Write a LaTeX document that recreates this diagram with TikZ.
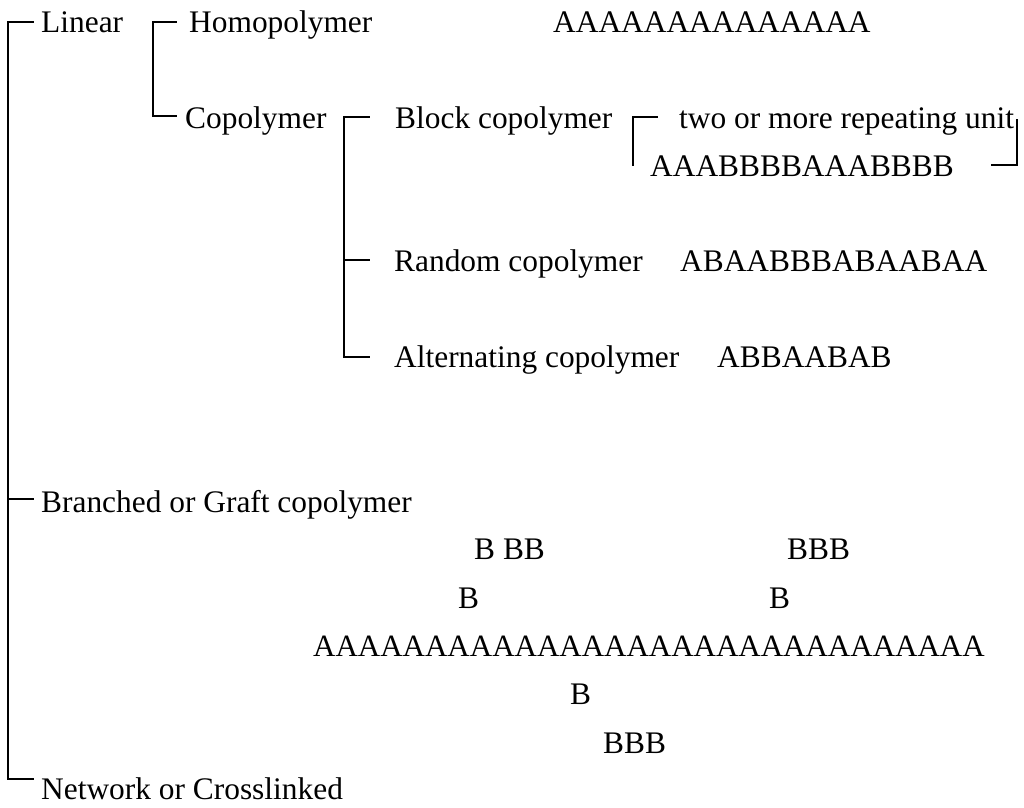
\documentclass[tikz,border=0pt]{standalone}
\usepackage{fontspec}
\setmainfont{Liberation Serif}
\begin{document}
\begin{tikzpicture}[x=1pt,y=1pt,
  lbl/.style={anchor=base west,inner sep=0pt,font=\fontsize{31.4}{36}\selectfont},
  brk/.style={line width=1.6pt,line cap=rect}]
\useasboundingbox (0,0) rectangle (1024,-807);
% labels
\node[lbl] (lin) at (41,-32) {Linear};
\node[lbl] (homo) at (189,-32) {Homopolymer};
\node[lbl] (homoseq) at (553,-32) {AAAAAAAAAAAAAA};
\node[lbl] (co) at (185,-128) {Copolymer};
\node[lbl] (block) at (395,-128) {Block copolymer};
\node[lbl] (two) at (679,-128) {two or more repeating unit};
\node[lbl] (blockseq) at (650,-176) {AAABBBBAAABBBB};
\node[lbl] (rand) at (394,-271) {Random copolymer};
\node[lbl] (randseq) at (680,-271) {ABAABBBABAABAA};
\node[lbl] (alt) at (394,-367) {Alternating copolymer};
\node[lbl] (altseq) at (717,-367) {ABBAABAB};
\node[lbl] (br) at (41,-512) {Branched or Graft copolymer};
\node[lbl] (b1) at (474,-559) {B BB};
\node[lbl] (b2) at (787,-559) {BBB};
\node[lbl] (b3) at (458,-608) {B};
\node[lbl] (b4) at (769,-608) {B};
\node[lbl,font=\fontsize{31}{36}\selectfont] (arow) at (313,-656) {AAAAAAAAAAAAAAAAAAAAAAAAAAAAAA};
\node[lbl] (b5) at (570,-704) {B};
\node[lbl] (b6) at (603,-753) {BBB};
\node[lbl] (net) at (41,-799) {Network or Crosslinked};
% bracket points
\coordinate (m1) at (33,-22);
\coordinate (m2) at (8,-22);
\coordinate (m3) at (8,-779);
\coordinate (m4) at (33,-779);
\coordinate (mb0) at (8,-499);
\coordinate (mb1) at (33,-499);
\coordinate (l1) at (176,-22);
\coordinate (l2) at (153,-22);
\coordinate (l3) at (153,-116);
\coordinate (l4) at (176,-116);
\coordinate (c1) at (369,-117);
\coordinate (c2) at (344,-117);
\coordinate (c3) at (344,-357);
\coordinate (c4) at (369,-357);
\coordinate (cr0) at (344,-260);
\coordinate (cr1) at (369,-260);
\coordinate (k1) at (657,-117);
\coordinate (k2) at (633,-117);
\coordinate (k3) at (633,-165);
\coordinate (r1) at (1017,-120);
\coordinate (r2) at (1017,-165);
\coordinate (r3) at (992,-165);
% brackets
\draw[brk] (m1) -- (m2) -- (m3) -- (m4);
\draw[brk] (mb0) -- (mb1);
\draw[brk] (l1) -- (l2) -- (l3) -- (l4);
\draw[brk] (c1) -- (c2) -- (c3) -- (c4);
\draw[brk] (cr0) -- (cr1);
\draw[brk] (k1) -- (k2) -- (k3);
\draw[brk] (r1) -- (r2) -- (r3);
\end{tikzpicture}
\end{document}
